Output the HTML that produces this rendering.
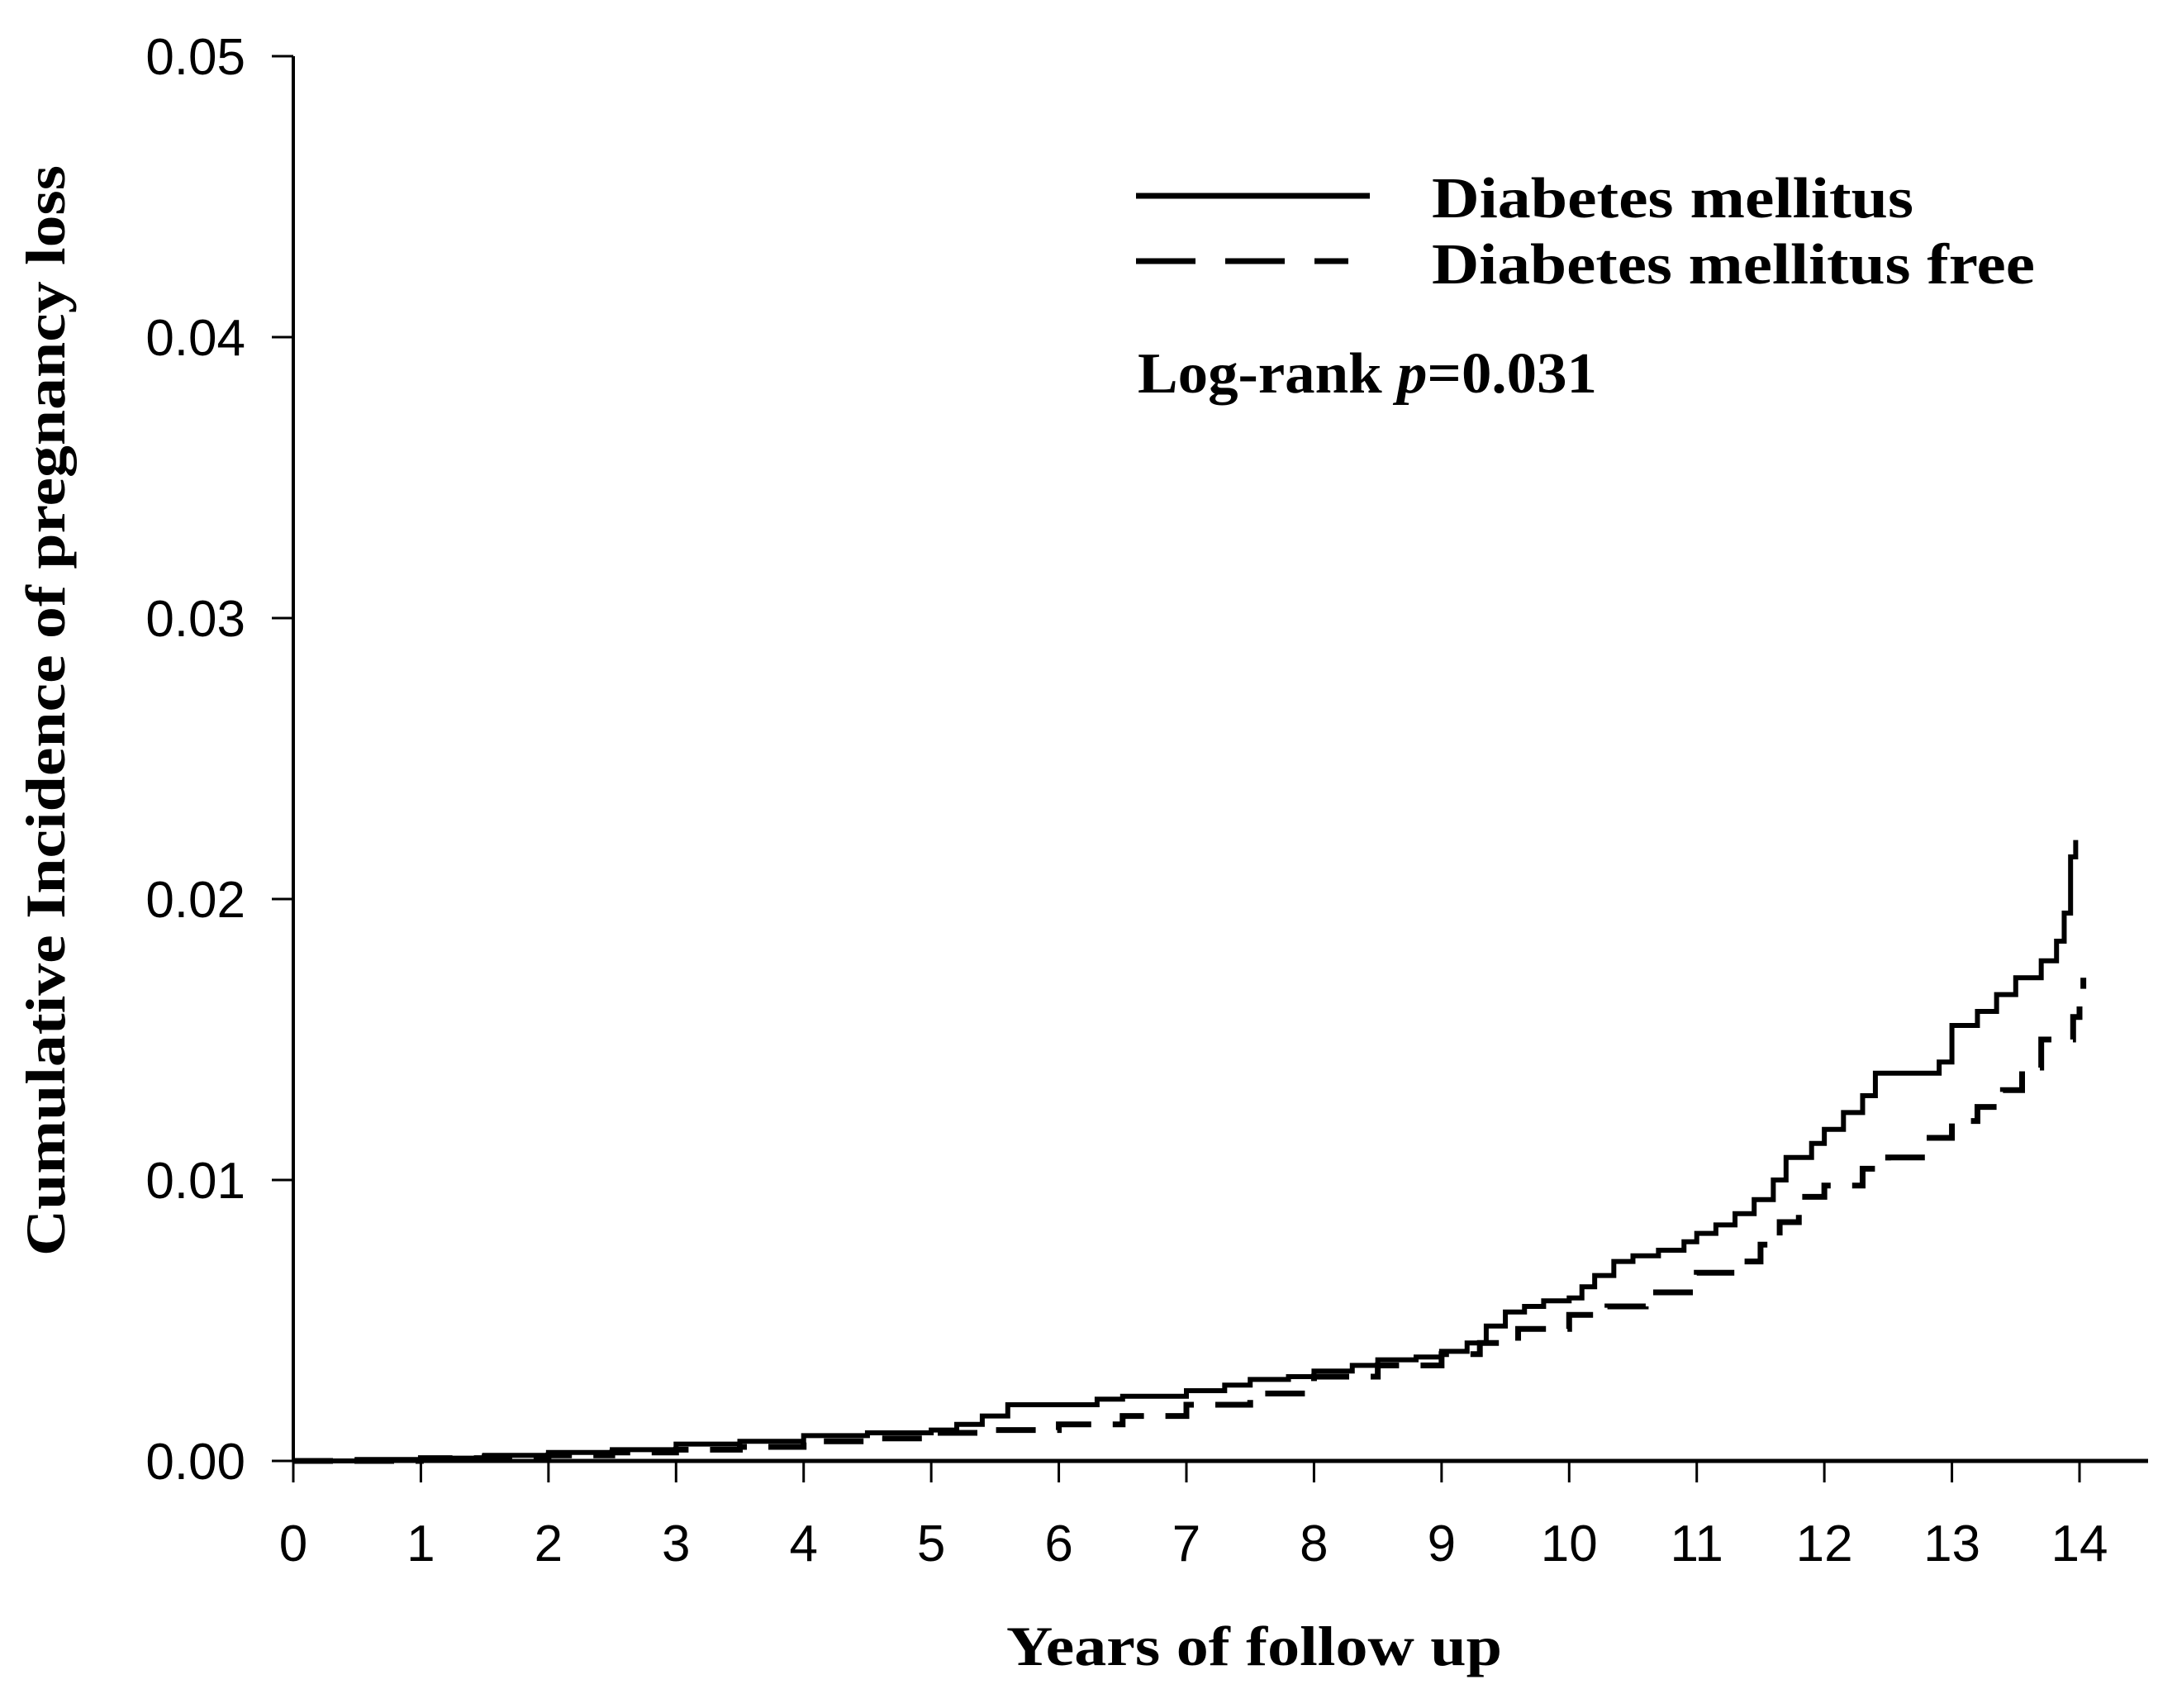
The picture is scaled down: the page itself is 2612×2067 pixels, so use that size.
<!DOCTYPE html>
<html><head><meta charset="utf-8"><style>html,body{margin:0;padding:0;background:#fff}svg{display:block}</style></head>
<body>
<svg id="chart" width="2612" height="2067" viewBox="0 0 2612 2067" xmlns="http://www.w3.org/2000/svg">
<rect width="2612" height="2067" fill="#fff"/>
<g id="axes"></g>
<g id="series"></g>
<text transform="translate(78,860) rotate(-90)" text-anchor="middle" font-family="Liberation Serif, serif" font-weight="bold" font-size="68" textLength="1320" lengthAdjust="spacingAndGlyphs">Cumulative Incidence of pregnancy loss</text>
<text x="1218" y="2015" font-family="Liberation Serif, serif" font-weight="bold" font-size="68" textLength="600" lengthAdjust="spacingAndGlyphs">Years of follow up</text>
<g>
<line x1="1375" y1="237" x2="1658" y2="237" stroke="#000" stroke-width="7"/>
<text x="1733" y="263" font-family="Liberation Serif, serif" font-weight="bold" font-size="70" textLength="583" lengthAdjust="spacingAndGlyphs">Diabetes mellitus</text>
<line x1="1375" y1="316" x2="1632" y2="316" stroke="#000" stroke-width="7" stroke-dasharray="72,36"/>
<text x="1733" y="343" font-family="Liberation Serif, serif" font-weight="bold" font-size="70" textLength="730" lengthAdjust="spacingAndGlyphs">Diabetes mellitus free</text>
</g>
<text x="1377" y="475" font-family="Liberation Serif, serif" font-weight="bold" font-size="70" textLength="556" lengthAdjust="spacingAndGlyphs">Log-rank <tspan font-style="italic">p</tspan>=0.031</text>
</svg>
<script>
const xTicks = [0,1,2,3,4,5,6,7,8,9,10,11,12,13,14];
const yTicks = [0,0.01,0.02,0.03,0.04,0.05];
const yTickLabels = ["0.00","0.01","0.02","0.03","0.04","0.05"];
const dmYears = [0,0.5,1,1.5,2,2.5,3,3.5,4,4.5,5,5.2,5.4,5.6,6,6.3,6.5,7,7.3,7.5,7.8,8,8.3,8.5,8.8,9,9.2,9.35,9.5,9.65,9.8,10,10.1,10.2,10.35,10.5,10.7,10.9,11,11.15,11.3,11.45,11.6,11.7,11.9,12,12.15,12.3,12.4,12.9,13.0,13.2,13.35,13.5,13.7,13.82,13.88,13.93,13.97];
const dmValues = [0,0.00005,0.0001,0.0002,0.0003,0.0004,0.0006,0.0007,0.0009,0.0010,0.0011,0.0013,0.0016,0.0020,0.0020,0.0022,0.0023,0.0025,0.0027,0.0029,0.0030,0.0032,0.0034,0.0036,0.0037,0.0039,0.0042,0.0048,0.0053,0.0055,0.0057,0.0058,0.0062,0.0066,0.0071,0.0073,0.0075,0.0078,0.0081,0.0084,0.0088,0.0093,0.0100,0.0108,0.0113,0.0118,0.0124,0.0130,0.0138,0.0142,0.0155,0.0160,0.0166,0.0172,0.0178,0.0185,0.0195,0.0215,0.0221];
const freeYears = [0,1,1.5,2,2.5,3,3.5,4,4.5,5,5.5,6,6.5,7,7.5,8,8.5,9,9.3,9.6,10,10.3,10.6,11,11.3,11.5,11.65,11.8,12,12.3,12.5,12.8,13,13.2,13.4,13.55,13.7,13.95,14,14.03];
const freeValues = [0,0.0001,0.00015,0.0002,0.0003,0.0004,0.0005,0.0007,0.0008,0.0010,0.0011,0.0013,0.0016,0.0020,0.0024,0.0030,0.0034,0.0038,0.0042,0.0047,0.0052,0.0055,0.0060,0.0067,0.0071,0.0077,0.0085,0.0094,0.0098,0.0104,0.0108,0.0115,0.0121,0.0126,0.0132,0.0140,0.0150,0.0158,0.0166,0.0172];

const X0=355, X1=2517, Y0=1768, Y1=68;
const xs = v => X0 + (v-0)/(14-0)*(X1-X0);
const ys = v => Y0 - (v-0)/(0.05-0)*(Y0-Y1);
const NS='http://www.w3.org/2000/svg';
const axes=document.getElementById('axes'), series=document.getElementById('series');
function mk(tag, attrs, parent){const e=document.createElementNS(NS,tag);for(const k in attrs)e.setAttribute(k,attrs[k]);parent.appendChild(e);return e;}

let e=mk('line',{x1:X0,y1:Y1,x2:X0,y2:Y0,stroke:'#000','stroke-width':4},axes);


e=mk('line',{x1:X0,y1:Y0,x2:2600,y2:Y0,stroke:'#000','stroke-width':5},axes);


xTicks.forEach(t=>{
  let l=mk('line',{x1:xs(t),y1:Y0,x2:xs(t),y2:Y0+26,stroke:'#000','stroke-width':3},axes);
  
  
  let tx=mk('text',{x:xs(t),y:1889,'text-anchor':'middle','font-family':'Liberation Sans, sans-serif','font-size':62},axes);
  tx.textContent=String(t);
  
  
});
yTicks.forEach((t,i)=>{
  let l=mk('line',{x1:X0-26,y1:ys(t),x2:X0,y2:ys(t),stroke:'#000','stroke-width':3},axes);
  
  
  let tx=mk('text',{x:297,y:ys(t)+22,'text-anchor':'end','font-family':'Liberation Sans, sans-serif','font-size':62},axes);
  tx.textContent=yTickLabels[i];
  
  
});
function stepPath(xa,ya){let d='M'+xs(xa[0])+','+ys(ya[0]);for(let i=1;i<xa.length;i++){d+=' H'+xs(xa[i])+' V'+ys(ya[i]);}return d;}
let p1=mk('path',{d:stepPath(freeYears,freeValues),fill:'none',stroke:'#000','stroke-width':7,'stroke-dasharray':'48,26'},series);


let p2=mk('path',{d:stepPath(dmYears,dmValues),fill:'none',stroke:'#000','stroke-width':6},series);


</script>
</body></html>
